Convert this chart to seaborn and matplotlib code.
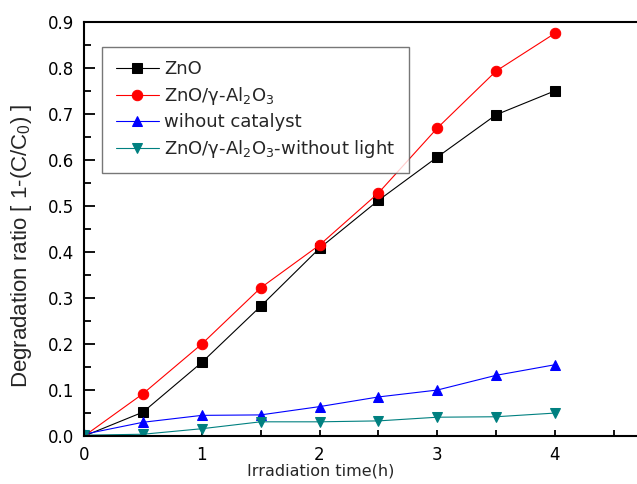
import matplotlib
matplotlib.use("Agg")
import matplotlib.pyplot as plt
import seaborn as sns
import pandas as pd
from matplotlib.ticker import MultipleLocator, FormatStrFormatter
from matplotlib.font_manager import FontProperties

time_h = [0, 0.5, 1, 1.5, 2, 2.5, 3, 3.5, 4]
zno = [0.0, 0.052, 0.160, 0.282, 0.408, 0.512, 0.606, 0.698, 0.750]
zno_al2o3 = [0.0, 0.092, 0.200, 0.322, 0.415, 0.528, 0.669, 0.793, 0.875]
without_catalyst = [0.004, 0.030, 0.045, 0.046, 0.064, 0.085, 0.100, 0.132, 0.155]
without_light = [0.002, 0.004, 0.016, 0.031, 0.031, 0.033, 0.041, 0.042, 0.050]

labels = ["ZnO", "ZnO/γ-Al$_2$O$_3$", "wihout catalyst", "ZnO/γ-Al$_2$O$_3$-without light"]
series = [zno, zno_al2o3, without_catalyst, without_light]
colors = ["black", "red", "blue", "#008080"]
markers = ["s", "o", "^", "v"]
msizes = [6.5, 7.5, 7, 7]

sns.set_theme(style="white")
plt.rcParams["font.family"] = ["DejaVu Sans"]
plt.rcParams["mathtext.fontset"] = "custom"
plt.rcParams["mathtext.rm"] = "Liberation Sans"
plt.rcParams["mathtext.it"] = "Liberation Sans:italic"
plt.rcParams["mathtext.bf"] = "Liberation Sans:bold"

fig = plt.figure(figsize=(6.37, 4.84), dpi=100)
ax = fig.add_axes([0.132, 0.099, 0.9, 0.856])

for lab, vals, c, m, ms in zip(labels, series, colors, markers, msizes):
    df = pd.DataFrame({"t": time_h, "v": vals})
    sns.lineplot(data=df, x="t", y="v", ax=ax, color=c, marker=m, markersize=ms,
                 markeredgecolor=c, markerfacecolor=c, linewidth=0.8, label=lab)

ax.set_xlim(0, 4.87)
ax.set_ylim(0, 0.9)
ax.xaxis.set_major_locator(MultipleLocator(1))
ax.xaxis.set_minor_locator(MultipleLocator(0.5))
ax.yaxis.set_major_locator(MultipleLocator(0.1))
ax.yaxis.set_minor_locator(MultipleLocator(0.05))
ax.yaxis.set_major_formatter(FormatStrFormatter("%.1f"))
ax.tick_params(which="both", direction="in", bottom=True, left=True, top=False, right=False,
               labelsize=12, width=1.3, colors="black")
ax.tick_params(axis="y", which="major", length=8, pad=7)
ax.tick_params(axis="y", which="minor", length=5)
ax.tick_params(axis="x", which="both", length=4.5)
ax.tick_params(axis="x", which="major", pad=7)
for s in ax.spines.values():
    s.set_color("black")
    s.set_linewidth(1.5)
ax.spines["right"].set_visible(False)

ax.set_xlabel("Irradiation time(h)", fontsize=11.5)
ax.xaxis.set_label_coords((320 - 84) / 573, -0.065)
ylab_font = FontProperties(family="Liberation Sans", size=16, math_fontfamily="custom")
ax.set_ylabel("Degradation ratio [ 1-(C/C$_0$) ]", fontproperties=ylab_font)
ax.yaxis.set_label_coords(-0.087, 0.459)

leg_font = FontProperties(family="DejaVu Sans", size=13, math_fontfamily="dejavusans")
leg = ax.legend(loc="upper left", bbox_to_anchor=(0.0314, 0.9396), prop=leg_font, frameon=True,
                fancybox=False, edgecolor="#555555", handlelength=2.4, handletextpad=0.3,
                labelspacing=0.36, borderpad=0.75, borderaxespad=0)
leg.get_frame().set_linewidth(1.0)

fig.savefig("out.png", dpi=100)
